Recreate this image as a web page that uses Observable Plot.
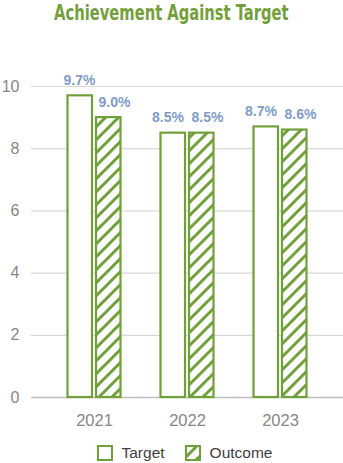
<!DOCTYPE html>
<html>
<head>
<meta charset="utf-8">
<script src="https://cdn.jsdelivr.net/npm/d3@7"></script>
<script src="https://cdn.jsdelivr.net/npm/@observablehq/plot@0.6"></script>
<style>
  html, body { margin: 0; padding: 0; background: #ffffff; }
  body { width: 343px; height: 463px; overflow: hidden; font-family: "Liberation Sans", Arial, sans-serif; }
  #title { height: 28px; line-height: 26px; text-align: center; white-space: nowrap; }
  #title span { display: inline-block; transform: scaleX(0.78); transform-origin: center; font-family: "DejaVu Sans Condensed", "DejaVu Sans", sans-serif; font-weight: bold; font-size: 21px; color: #74a03b; }
  #legend { height: 25px; display: flex; justify-content: center; align-items: center; font-size: 15.5px; color: #404040; padding-left: 26px; box-sizing: border-box; margin-top: 2px; }
  #legend .item { display: flex; align-items: center; }
  #legend svg { margin-right: 9px; }
</style>
</head>
<body>
<div id="title"><span>Achievement Against Target</span></div>
<div id="chart"></div>
<div id="legend"></div>
<script>
const years = ["2021", "2022", "2023"];
const target = [9.7, 8.5, 8.7];
const outcome = [9.0, 8.5, 8.6];
const yTicks = [0, 2, 4, 6, 8, 10];
const seriesNames = ["Target", "Outcome"];

const green = "#70a03a";
const labelBlue = "#7f9cc9";
const tickGray = "#878787";

const targetData = years.map((y, i) => ({year: y, value: target[i], label: target[i].toFixed(1) + "%"}));
const outcomeData = years.map((y, i) => ({year: y, value: outcome[i], label: outcome[i].toFixed(1) + "%"}));

const labelStyle = {x: "year", y: "value", text: "label", dy: -11, fill: labelBlue, fontWeight: "bold", fontSize: 14, lineAnchor: "bottom"};

const chart = Plot.plot({
  width: 343,
  height: 410,
  marginTop: 58,
  marginBottom: 41,
  marginLeft: 31,
  marginRight: 0,
  style: {fontFamily: "'Liberation Sans', Arial, sans-serif", background: "#ffffff", overflow: "visible"},
  x: {domain: years, padding: 0.337, label: null},
  y: {domain: [0, 10], label: null},
  marks: [
    Plot.ruleY(yTicks.filter(d => d > 0), {stroke: "#d9d9d9", strokeWidth: 1.2}),
    Plot.ruleY([0], {stroke: "#bfbfbf", strokeWidth: 1.5}),
    Plot.axisY(yTicks, {tickSize: 0, tickPadding: 12, fontSize: 16, fill: tickGray, label: null}),
    Plot.axisX({tickSize: 0, tickPadding: 17, fontSize: 16.5, fill: tickGray, label: null}),
    Plot.barY(targetData, {x: "year", y: "value", fill: "#ffffff", stroke: green, strokeWidth: 2.2, insetLeft: 4.5, insetRight: 33}),
    Plot.barY(outcomeData, {x: "year", y: "value", fill: "url(#hatch)", stroke: green, strokeWidth: 2.2, insetLeft: 33, insetRight: 4.5}),
    Plot.text(targetData.slice(0, 1), {...labelStyle, dx: -15}),
    Plot.text(targetData.slice(1), {...labelStyle, dx: -19.5}),
    Plot.text(outcomeData, {...labelStyle, dx: 20})
  ]
});

const svg = d3.select(chart);

function addHatch(sel, id) {
  const defs = sel.insert("defs", ":first-child");
  const p = defs.append("pattern").attr("id", id).attr("patternUnits", "userSpaceOnUse")
    .attr("width", 13).attr("height", 13);
  p.append("rect").attr("width", 13).attr("height", 13).attr("fill", "#ffffff");
  p.append("path").attr("d", "M-1,14 L14,-1 M-4,4 L4,-4 M9,17 L17,9")
    .attr("stroke", green).attr("stroke-width", 3).attr("fill", "none");
}
addHatch(svg, "hatch");
document.getElementById("chart").appendChild(chart);

// legend
const legend = d3.select("#legend");
seriesNames.forEach((name, i) => {
  const item = legend.append("div").attr("class", "item").style("margin-left", i === 0 ? "0px" : "20px");
  const s = item.append("svg").attr("width", 16).attr("height", 16);
  if (i === 1) addHatch(s, "hatchLegend");
  s.append("rect").attr("x", 1).attr("y", 1).attr("width", 14).attr("height", 14)
    .attr("fill", i === 0 ? "#ffffff" : "url(#hatchLegend)").attr("stroke", green).attr("stroke-width", 2);
  item.append("span").text(name);
});
</script>
</body>
</html>
